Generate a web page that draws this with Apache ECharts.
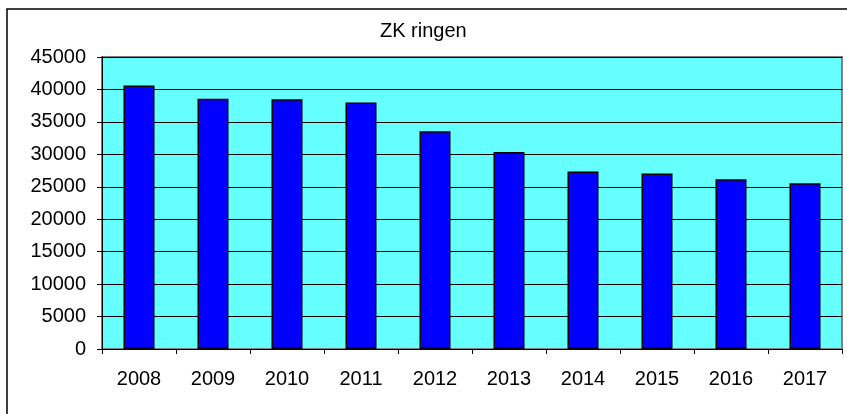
<!DOCTYPE html>
<html>
<head>
<meta charset="utf-8">
<title>ZK ringen</title>
<script src="https://cdn.jsdelivr.net/npm/echarts@6/dist/echarts.min.js"></script>
<style>
  html, body { margin: 0; padding: 0; background: #fff; }
  #chart { width: 847px; height: 414px; }
</style>
</head>
<body>
<div id="chart"></div>
<script>
// jaren en aantallen
const years = ['2008', '2009', '2010', '2011', '2012', '2013', '2014', '2015', '2016', '2017']
const counts = [40600, 38550, 38500, 38000, 33550, 30350, 27350, 27050, 26150, 25550]
const titleText = 'ZK ringen'

const font = '"Liberation Sans", Arial, sans-serif'

var myChart = echarts.init(document.getElementById('chart'), null, { renderer: 'canvas' })
var option = {
  animation: false,
  title: {
    text: titleText,
    left: 380,
    top: 21,
    padding: 0,
    textStyle: { fontSize: 20, fontWeight: 'normal', color: '#000', fontFamily: font }
  },
  graphic: [
    {
      type: 'rect',
      shape: { x: 7, y: 9, width: 860, height: 430 },
      style: { fill: 'none', stroke: '#000', lineWidth: 1.5 },
      silent: true
    }
  ],
  grid: {
    left: 102,
    top: 57,
    right: 5,
    bottom: 65,
    show: true,
    backgroundColor: '#66FFFF',
    borderColor: '#808080',
    borderWidth: 2
  },
  xAxis: {
    type: 'category',
    data: years,
    boundaryGap: true,
    axisLine: { lineStyle: { color: '#000', width: 1 } },
    axisTick: { show: true, length: 5, alignWithLabel: false, lineStyle: { color: '#000' } },
    axisLabel: { color: '#000', fontSize: 20, fontFamily: font, margin: 20 },
    splitLine: { show: false }
  },
  yAxis: {
    type: 'value',
    min: 0,
    max: 45000,
    interval: 5000,
    axisLine: { show: true, lineStyle: { color: '#000', width: 1 } },
    axisTick: { show: true, length: 5, lineStyle: { color: '#000' } },
    axisLabel: {
      color: '#000', fontSize: 20, fontFamily: font, margin: 16,
      formatter: v => String(v)
    },
    splitLine: { show: true, lineStyle: { color: '#000', width: 1 } }
  },
  series: [
    {
      type: 'bar',
      data: counts,
      barWidth: 31,
      itemStyle: { color: '#0000FF', borderColor: '#000', borderWidth: 1.5 }
    }
  ]
}
option && myChart.setOption(option)
</script>
</body>
</html>
